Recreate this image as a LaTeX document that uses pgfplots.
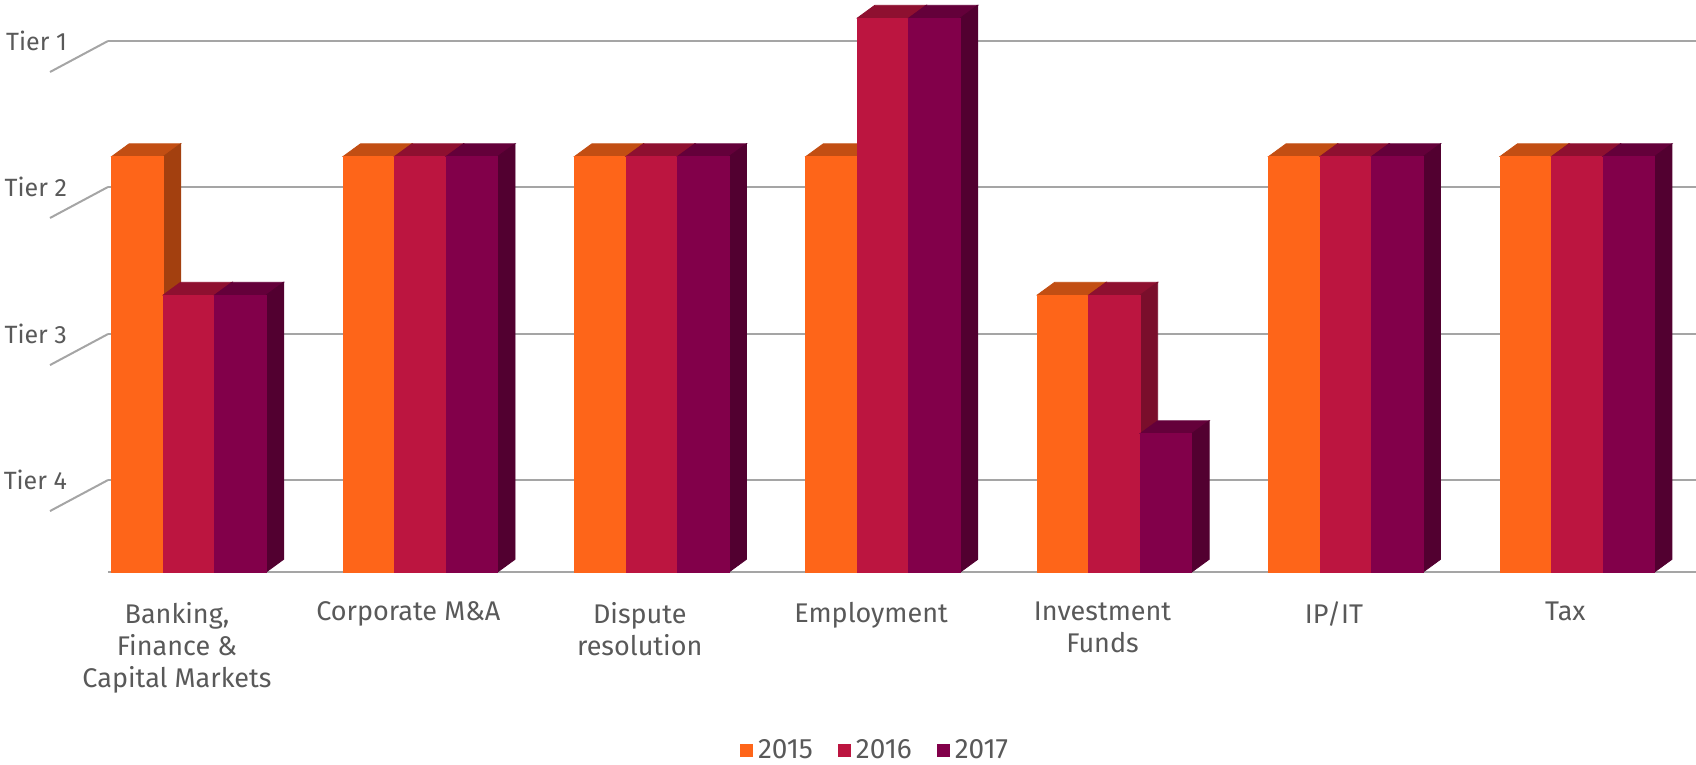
\documentclass[border=0pt]{standalone}
\usepackage{pgfplots}
\usepackage{pgfplotstable}
\pgfplotsset{compat=1.18}
\usepackage{fontspec}
\setmainfont{Fira Sans}

\definecolor{c15}{HTML}{FE6519}
\definecolor{c15top}{HTML}{C24E13}
\definecolor{c15side}{HTML}{A3400F}
\definecolor{c16}{HTML}{BC1540}
\definecolor{c16top}{HTML}{8E1030}
\definecolor{c16side}{HTML}{7A0E2B}
\definecolor{c17}{HTML}{82004A}
\definecolor{c17top}{HTML}{64003A}
\definecolor{c17side}{HTML}{520030}
\definecolor{gridgray}{HTML}{A5A5A5}
\definecolor{txtgray}{HTML}{595959}

% tiers: 4 = Tier 1 ... 1 = Tier 4
\pgfplotstableread{
i a b c
0 3 2 2
1 3 3 3
2 3 3 3
3 3 4 4
4 2 2 1
5 3 3 3
6 3 3 3
}\tiers

\pgfdeclareplotmark{blank}{}
% 3d bar drawn at each point: shift, front colour, top colour, side colour
\pgfplotsset{
  bar3d/.style n args={4}{forget plot, only marks, mark=blank, scatter,
    visualization depends on={y \as \rawy},
    scatter/@pre marker code/.code={%
      \pgfmathfloatparsenumber{\rawy}\pgfmathfloattofixed{\pgfmathresult}\let\hv\pgfmathresult
      \fill[#3] ({#1-12.875pt},0pt) -- ++(25.75pt,0pt) -- ++(8.7pt,6.35pt) -- ++(-25.75pt,0pt) -- cycle;
      \fill[#4] ({#1+12.875pt},0pt) -- ++(8.7pt,6.35pt) -- ++(0pt,{-\hv*69.25pt}) -- ++(-8.7pt,-6.35pt) -- cycle;
      \fill[#2] ({#1-12.875pt},0pt) rectangle ({#1+12.875pt},{-\hv*69.25pt});
    },
    scatter/@post marker code/.code={}},
  front/.style 2 args={ybar, bar width=25.75pt, bar shift=#1, fill=#2, draw=none}
}

\begin{document}
\begin{tikzpicture}
\useasboundingbox (0,0) rectangle (848pt,382.5pt);
\begin{axis}[
  at={(54pt,96.5pt)}, anchor=south west,
  scale only axis, width=794pt, height=277pt,
  xmin=-0.35, xmax=6.513, ymin=0, ymax=4,
  clip=false,
  axis lines*=left,
  y axis line style={draw=none},
  x axis line style={draw=gridgray, line width=1.3pt},
  ymajorgrids, grid style={gridgray, line width=1pt},
  ytick={0.664,1.718,2.780,3.834},
  yticklabels={Tier 4,Tier 3,Tier 2,Tier 1},
  xtick={0,...,6},
  xticklabels={{Banking,\\Finance \&\\Capital Markets},Corporate M\&A,{Dispute\\resolution},Employment,{Investment\\Funds},IP/IT,Tax},
  major tick length=0pt,
  tick label style={text=txtgray},
  yticklabel style={font=\fontsize{12.5}{14}\selectfont, xshift=-17pt},
  xticklabel style={font=\fontsize{13.5}{16}\selectfont, align=center, xshift=-6pt, yshift=-11.5pt},
  legend columns=3,
  legend style={at={(0.484,-0.3213)}, anchor=center, draw=none,
    font=\fontsize{14}{16}\selectfont, text=txtgray,
    nodes={inner sep=2.5pt},
    /tikz/every even column/.append style={column sep=10pt}},
  legend image code/.code={\fill[#1] (0pt,-3.25pt) rectangle (6.5pt,3.25pt);},
]
\draw[gridgray, line width=1pt]
  (axis cs:-0.35,0.664) -- (axis cs:-0.6007,0.440)
  (axis cs:-0.35,1.718) -- (axis cs:-0.6007,1.494)
  (axis cs:-0.35,2.780) -- (axis cs:-0.6007,2.556)
  (axis cs:-0.35,3.834) -- (axis cs:-0.6007,3.610);

% front faces as plain bars (also give the legend)
\addplot[front={-25.75pt}{c15}] table[x=i, y=a] {\tiers};
\addplot[front={0pt}{c16}] table[x=i, y=b] {\tiers};
\addplot[front={25.75pt}{c17}] table[x=i, y=c] {\tiers};
\legend{2015,2016,2017}

% full 3d bars, drawn in series order so each hides the one before
\addplot[bar3d={-25.75pt}{c15}{c15top}{c15side}] table[x=i, y=a] {\tiers};
\addplot[bar3d={0pt}{c16}{c16top}{c16side}] table[x=i, y=b] {\tiers};
\addplot[bar3d={25.75pt}{c17}{c17top}{c17side}] table[x=i, y=c] {\tiers};
\end{axis}
\end{tikzpicture}
\end{document}
